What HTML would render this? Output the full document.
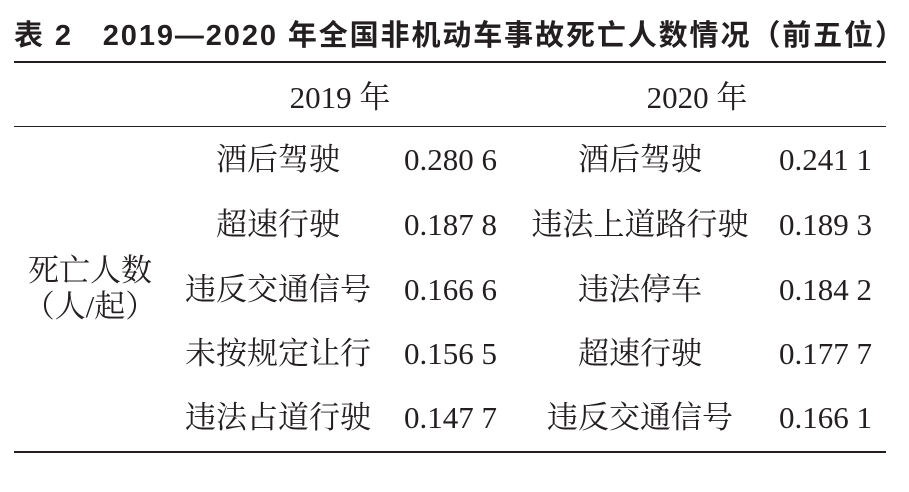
<!DOCTYPE html>
<html><head><meta charset="utf-8"><style>
body{margin:0;width:909px;height:492px;background:#fff;position:relative;overflow:hidden;color:#231f20}
.t{position:absolute;white-space:nowrap;font-family:"Liberation Serif","Noto Serif CJK SC",serif;font-size:31px;line-height:1}
.c{transform:translateX(-50%)}
.r{position:absolute;left:14px;width:872px;background:#231f20}
.h{position:absolute;left:14px;top:22px;font-family:"Liberation Sans","Noto Sans CJK SC",sans-serif;font-weight:bold;font-size:29px;letter-spacing:1.9px;line-height:1;white-space:nowrap}
</style></head><body>
<div class="h">表 2&nbsp;&nbsp; 2019—2020 年全国非机动车事故死亡人数情况（前五位）</div>
<div class="r" style="top:61px;height:2px"></div>
<div class="r" style="top:126px;height:1px"></div>
<div class="r" style="top:451px;height:2px"></div>
<div class="t c" style="left:340px;top:82px">2019 年</div>
<div class="t c" style="left:697px;top:82px">2020 年</div>
<div class="t c" style="left:90px;top:255px">死亡人数</div>
<div class="t c" style="left:90px;top:291px">（人/起）</div>

<div class="t c" style="left:278px;top:144px">酒后驾驶</div>
<div class="t c" style="left:278px;top:209px">超速行驶</div>
<div class="t c" style="left:278px;top:274px">违反交通信号</div>
<div class="t c" style="left:278px;top:338px">未按规定让行</div>
<div class="t c" style="left:278px;top:402px">违法占道行驶</div>

<div class="t" style="left:404px;top:144px">0.280 6</div>
<div class="t" style="left:404px;top:209px">0.187 8</div>
<div class="t" style="left:404px;top:274px">0.166 6</div>
<div class="t" style="left:404px;top:338px">0.156 5</div>
<div class="t" style="left:404px;top:402px">0.147 7</div>

<div class="t c" style="left:640px;top:144px">酒后驾驶</div>
<div class="t c" style="left:640px;top:209px">违法上道路行驶</div>
<div class="t c" style="left:640px;top:274px">违法停车</div>
<div class="t c" style="left:640px;top:338px">超速行驶</div>
<div class="t c" style="left:640px;top:402px">违反交通信号</div>

<div class="t" style="left:779px;top:144px">0.241 1</div>
<div class="t" style="left:779px;top:209px">0.189 3</div>
<div class="t" style="left:779px;top:274px">0.184 2</div>
<div class="t" style="left:779px;top:338px">0.177 7</div>
<div class="t" style="left:779px;top:402px">0.166 1</div>
</body></html>
